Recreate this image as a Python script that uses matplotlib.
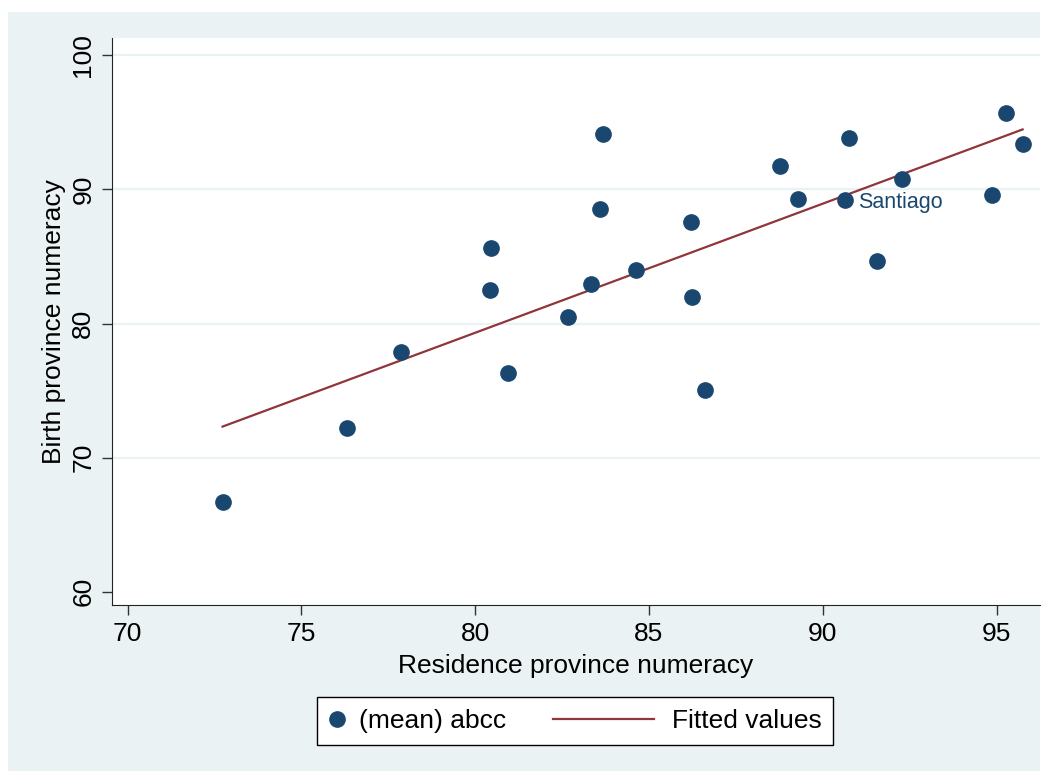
import numpy as np
import matplotlib.pyplot as plt
from matplotlib.patches import Rectangle
from matplotlib.lines import Line2D
from matplotlib.legend_handler import HandlerBase

plt.rcParams['font.family'] = ['Liberation Sans', 'DejaVu Sans']

# residence vs birth province numeracy
residence = [72.73, 76.30, 77.86, 80.46, 80.44, 80.95, 82.68, 83.33, 83.60, 83.68,
             84.62, 86.22, 86.25, 86.61, 88.78, 89.29, 90.75, 90.65, 91.55, 92.27,
             94.86, 95.27, 95.75]
birth = [66.66, 72.17, 77.90, 85.62, 82.52, 76.34, 80.45, 82.96, 88.55, 94.13,
         83.98, 87.56, 81.97, 75.05, 91.73, 89.29, 93.86, 89.20, 84.65, 90.80,
         89.59, 95.70, 93.37]
labelled = "Santiago"
labelled_idx = 17

xticks = [70, 75, 80, 85, 90, 95]
yticks = [60, 70, 80, 90, 100]

navy = '#1a476f'
maroon = '#90353b'
bg = '#eaf2f3'


class LongLine(HandlerBase):
    # stata draws the line key wider than the marker key
    def create_artists(self, legend, orig_handle, xdescent, ydescent,
                       width, height, fontsize, trans):
        yy = (height - ydescent) / 2
        ln = Line2D([-63, 9.5], [yy, yy], color=orig_handle.get_color(),
                    lw=orig_handle.get_linewidth())
        ln.set_transform(trans)
        return [ln]


fig = plt.figure(figsize=(10.48, 7.71), dpi=100)
fig.patch.set_facecolor('white')
fig.patches.append(Rectangle((8 / 1048, 0), 1032 / 1048, 759 / 771,
                             transform=fig.transFigure, facecolor=bg,
                             edgecolor='none', zorder=-10))

ax = fig.add_axes([112 / 1048, 166 / 771, 928 / 1048, 567 / 771])
ax.set_facecolor('white')

x = np.array(residence)
y = np.array(birth)
b, a = np.polyfit(x, y, 1)
xs = np.array([x.min(), x.max()])

pts, = ax.plot(x, y, 'o', color=navy, markersize=11, label='(mean) abcc', zorder=3)
fit, = ax.plot(xs, a + b * xs, color=maroon, lw=1.6, label='Fitted values', zorder=2)

ax.annotate(labelled, (x[labelled_idx], y[labelled_idx]), xytext=(9, -1.5),
            textcoords='offset points', color=navy, fontsize=15.5, va='center')

ax.set_xlim(69.55, 96.25)
ax.set_ylim(59.0, 101.3)
ax.set_xticks(xticks)
ax.set_yticks(yticks)
ax.tick_params(direction='out', length=7, width=1, color='#333333',
               labelsize=19, pad=5)
for lab in ax.get_yticklabels():
    lab.set_rotation(90)
    lab.set_va('center')

for yy in yticks[1:]:
    ax.axhline(yy, color=bg, lw=1.6, zorder=0)

for s in ['top', 'right']:
    ax.spines[s].set_visible(False)
for s in ['left', 'bottom']:
    ax.spines[s].set_color('#222222')

ax.set_xlabel('Residence province numeracy', fontsize=19, labelpad=6)
ax.set_ylabel('Birth province numeracy', fontsize=19, labelpad=4)

leg = ax.legend([pts, fit], ['(mean) abcc', 'Fitted values'],
                handler_map={fit: LongLine()},
                loc='center', bbox_to_anchor=(575 / 1048, 50 / 771),
                bbox_transform=fig.transFigure, ncol=2, fontsize=19,
                frameon=True, fancybox=False, edgecolor='black', framealpha=1,
                handlelength=0.61, columnspacing=5.1, borderpad=0.45,
                handletextpad=0.55, borderaxespad=0)
leg.get_frame().set_linewidth(1.0)

fig.savefig('out.png', dpi=100, facecolor=fig.get_facecolor())
